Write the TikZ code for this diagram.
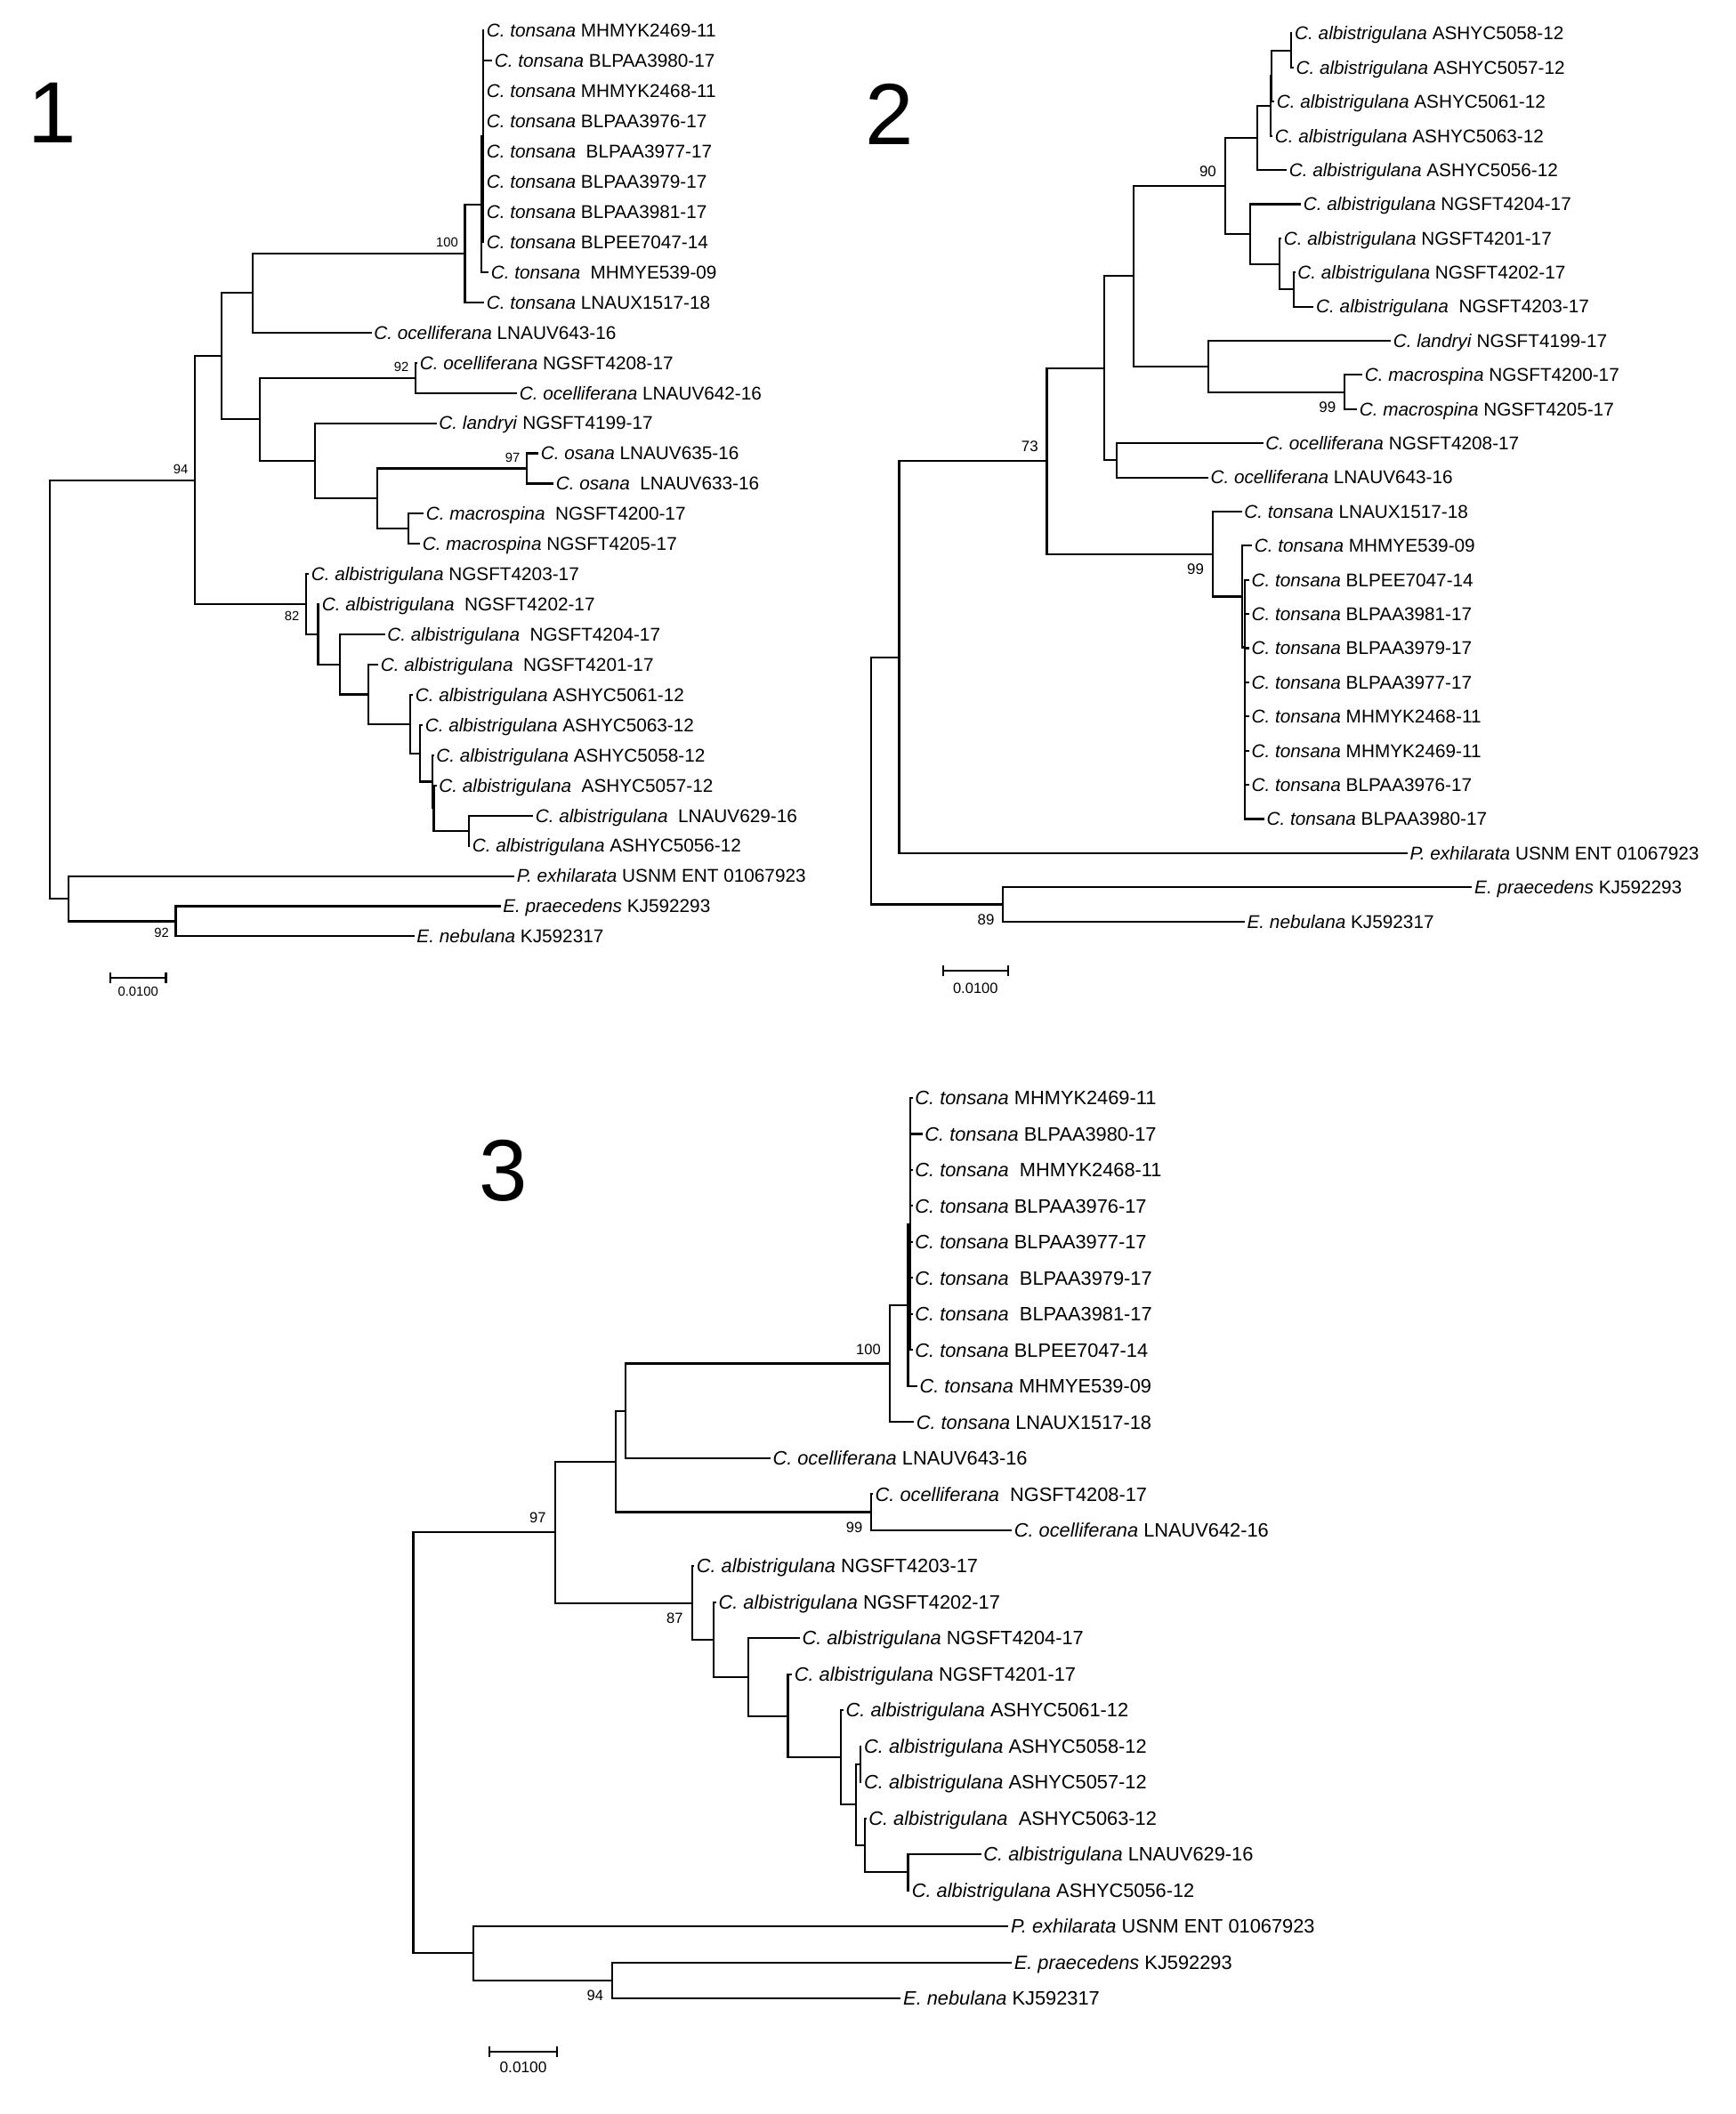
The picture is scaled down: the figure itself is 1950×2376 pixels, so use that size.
\documentclass[tikz,border=0pt]{standalone}
\usepackage{fontspec}
\setmainfont{Liberation Sans}
\usetikzlibrary{arrows.meta}

\begin{document}
\begin{tikzpicture}[
    x=0.01cm, y=-0.01cm,
    branch/.style={line width=0.58pt},
    leaf/.style={anchor=west, inner sep=0.6pt, text height=5.2pt, text depth=1pt, font=\fontsize{5.9}{7}\selectfont},
    bigleaf/.style={leaf, text height=5.45pt, text depth=1.05pt, font=\fontsize{6.2}{7.4}\selectfont},
    bignum/.style={anchor=base, inner sep=0pt, font=\fontsize{27.8}{30}\selectfont},
    bs/.style={inner sep=0pt},
    bsaboveA/.style={bs, anchor=south east, xshift=-2pt, yshift=1.8pt, font=\fontsize{4.2}{5}\selectfont},
    bsbelowA/.style={bs, anchor=north east, xshift=-2pt, yshift=-2pt, font=\fontsize{4.2}{5}\selectfont},
    bsaboveB/.style={bs, anchor=south east, xshift=-2.6pt, yshift=2.7pt, font=\fontsize{4.8}{5.6}\selectfont},
    bsbelowB/.style={bs, anchor=north east, xshift=-2.6pt, yshift=-2.9pt, font=\fontsize{4.8}{5.6}\selectfont},
    bsaboveC/.style={bs, anchor=south east, xshift=-2.7pt, yshift=2.7pt, font=\fontsize{4.7}{5.5}\selectfont},
    bsbelowC/.style={bs, anchor=north east, xshift=-2.7pt, yshift=-3pt, font=\fontsize{4.7}{5.5}\selectfont},
    scalebar/.style={branch, {Bar[width=3.6pt]}-{Bar[width=3.6pt]}},
]

    \fill[white] (0,0) rectangle (1950,2376);

    % =====================================================================
    % TREE 1
    % =====================================================================
    \node[bignum] (num1) at (59,161) {1};

    % leaves
    \node[leaf] (a1) at (544,34.5) {\textit{C. tonsana} MHMYK2469-11};
    \node[leaf] (a2) at (553,68.4) {\textit{C. tonsana} BLPAA3980-17};
    \node[leaf] (a3) at (544,102.4) {\textit{C. tonsana} MHMYK2468-11};
    \node[leaf] (a4) at (544,136.3) {\textit{C. tonsana} BLPAA3976-17};
    \node[leaf] (a5) at (544,170.2) {\textit{C. tonsana}\ \ BLPAA3977-17};
    \node[leaf] (a6) at (544,204.2) {\textit{C. tonsana} BLPAA3979-17};
    \node[leaf] (a7) at (544,238.1) {\textit{C. tonsana} BLPAA3981-17};
    \node[leaf] (a8) at (544,272.0) {\textit{C. tonsana} BLPEE7047-14};
    \node[leaf] (a9) at (549,305.9) {\textit{C. tonsana}\ \ MHMYE539-09};
    \node[leaf] (a10) at (544,339.9) {\textit{C. tonsana} LNAUX1517-18};
    \node[leaf] (a11) at (417.5,373.8) {\textit{C. ocelliferana} LNAUV643-16};
    \node[leaf] (a12) at (469,407.7) {\textit{C. ocelliferana} NGSFT4208-17};
    \node[leaf] (a13) at (581,441.7) {\textit{C. ocelliferana} LNAUV642-16};
    \node[leaf] (a14) at (490.6,475.6) {\textit{C. landryi} NGSFT4199-17};
    \node[leaf] (a15) at (605,509.5) {\textit{C. osana} LNAUV635-16};
    \node[leaf] (a16) at (622,543.5) {\textit{C. osana}\ \ LNAUV633-16};
    \node[leaf] (a17) at (476,577.4) {\textit{C. macrospina}\ \ NGSFT4200-17};
    \node[leaf] (a18) at (472,611.3) {\textit{C. macrospina} NGSFT4205-17};
    \node[leaf] (a19) at (347,645.3) {\textit{C. albistrigulana} NGSFT4203-17};
    \node[leaf] (a20) at (359,679.2) {\textit{C. albistrigulana}\ \ NGSFT4202-17};
    \node[leaf] (a21) at (432.5,713.1) {\textit{C. albistrigulana}\ \ NGSFT4204-17};
    \node[leaf] (a22) at (425,747.1) {\textit{C. albistrigulana}\ \ NGSFT4201-17};
    \node[leaf] (a23) at (464,781.0) {\textit{C. albistrigulana} ASHYC5061-12};
    \node[leaf] (a24) at (475,814.9) {\textit{C. albistrigulana} ASHYC5063-12};
    \node[leaf] (a25) at (487.5,848.8) {\textit{C. albistrigulana} ASHYC5058-12};
    \node[leaf] (a26) at (490.6,882.8) {\textit{C. albistrigulana}\ \ ASHYC5057-12};
    \node[leaf] (a27) at (599,916.7) {\textit{C. albistrigulana}\ \ LNAUV629-16};
    \node[leaf] (a28) at (528,950.6) {\textit{C. albistrigulana} ASHYC5056-12};
    \node[leaf] (a29) at (578,984.6) {\textit{P. exhilarata} USNM ENT 01067923};
    \node[leaf] (a30) at (562.5,1018.5) {\textit{E. praecedens} KJ592293};
    \node[leaf] (a31) at (465.6,1052.4) {\textit{E. nebulana} KJ592317};

    % inner nodes
    \coordinate (a_poly) at (543,153.3);
    \coordinate (a_s) at (541,229.6);
    \coordinate (a_100) at (522.5,284.7);
    \coordinate (a_c) at (284,329.3);
    \coordinate (a_92) at (467,424.7);
    \coordinate (a_97) at (592,526.5);
    \coordinate (a_i) at (459,594.4);
    \coordinate (a_g) at (424,560.4);
    \coordinate (a_f) at (354,518);
    \coordinate (a_d) at (292,471.3);
    \coordinate (a_b) at (249,400.3);
    \coordinate (a_q) at (527,933.7);
    \coordinate (a_p) at (487.5,908.2);
    \coordinate (a_o) at (486,878.5);
    \coordinate (a_n) at (472,846.7);
    \coordinate (a_m) at (460.6,813.9);
    \coordinate (a_l) at (414,780.5);
    \coordinate (a_k) at (382,746.8);
    \coordinate (a_j) at (357.5,713);
    \coordinate (a_82) at (344,679.1);
    \coordinate (a_94) at (219,539.7);
    \coordinate (a_e) at (197.5,1035.5);
    \coordinate (a_out) at (77,1010);
    \coordinate (a_root) at (56,774.9);

    % branches
    \foreach \i in {1,...,8} \draw[branch] (a_poly) |- (a\i.west);
    \draw[branch] (a_s) |- (a_poly) (a_s) |- (a9.west);
    \draw[branch] (a_100) |- (a_s) (a_100) |- (a10.west);
    \draw[branch] (a_c) |- (a_100) (a_c) |- (a11.west);
    \draw[branch] (a_92) |- (a12.west) (a_92) |- (a13.west);
    \draw[branch] (a_97) |- (a15.west) (a_97) |- (a16.west);
    \draw[branch] (a_i) |- (a17.west) (a_i) |- (a18.west);
    \draw[branch] (a_g) |- (a_97) (a_g) |- (a_i);
    \draw[branch] (a_f) |- (a14.west) (a_f) |- (a_g);
    \draw[branch] (a_d) |- (a_92) (a_d) |- (a_f);
    \draw[branch] (a_b) |- (a_c) (a_b) |- (a_d);
    \draw[branch] (a_q) |- (a27.west) (a_q) |- (a28.west);
    \draw[branch] (a_p) |- (a26.west) (a_p) |- (a_q);
    \draw[branch] (a_o) |- (a25.west) (a_o) |- (a_p);
    \draw[branch] (a_n) |- (a24.west) (a_n) |- (a_o);
    \draw[branch] (a_m) |- (a23.west) (a_m) |- (a_n);
    \draw[branch] (a_l) |- (a22.west) (a_l) |- (a_m);
    \draw[branch] (a_k) |- (a21.west) (a_k) |- (a_l);
    \draw[branch] (a_j) |- (a20.west) (a_j) |- (a_k);
    \draw[branch] (a_82) |- (a19.west) (a_82) |- (a_j);
    \draw[branch] (a_94) |- (a_b) (a_94) |- (a_82);
    \draw[branch] (a_e) |- (a30.west) (a_e) |- (a31.west);
    \draw[branch] (a_out) |- (a29.west) (a_out) |- (a_e);
    \draw[branch] (a_root) |- (a_94) (a_root) |- (a_out);

    % bootstrap values
    \node[bsaboveA] (a_bs100) at (a_100) {100};
    \node[bsaboveA] (a_bs92) at (a_92) {92};
    \node[bsaboveA] (a_bs97) at (a_97) {97};
    \node[bsaboveA] (a_bs94) at (a_94) {94};
    \node[bsbelowA] (a_bs82) at (a_82) {82};
    \node[bsbelowA] (a_bse) at (a_e) {92};

    % scale
    \coordinate (a_sc0) at (123,1099);
    \coordinate (a_sc1) at (187.5,1099);
    \draw[scalebar] (a_sc0) -- (a_sc1) node[midway, below=2.6pt, inner sep=0pt, font=\fontsize{4.2}{5}\selectfont] (a_sctxt) {0.0100};

    % =====================================================================
    % TREE 2
    % =====================================================================
    \node[bignum] (num2) at (1000,162.5) {2};

    % leaves
    \node[leaf] (b1) at (1452.4,37.5) {\textit{C. albistrigulana} ASHYC5058-12};
    \node[leaf] (b2) at (1453.7,75.9) {\textit{C. albistrigulana} ASHYC5057-12};
    \node[leaf] (b3) at (1432,114.3) {\textit{C. albistrigulana} ASHYC5061-12};
    \node[leaf] (b4) at (1430,152.7) {\textit{C. albistrigulana} ASHYC5063-12};
    \node[leaf] (b5) at (1446,191.1) {\textit{C. albistrigulana} ASHYC5056-12};
    \node[leaf] (b6) at (1462,229.5) {\textit{C. albistrigulana} NGSFT4204-17};
    \node[leaf] (b7) at (1440,267.8) {\textit{C. albistrigulana} NGSFT4201-17};
    \node[leaf] (b8) at (1455.6,306.2) {\textit{C. albistrigulana} NGSFT4202-17};
    \node[leaf] (b9) at (1476.4,344.6) {\textit{C. albistrigulana}\ \ NGSFT4203-17};
    \node[leaf] (b10) at (1563,383.0) {\textit{C. landryi} NGSFT4199-17};
    \node[leaf] (b11) at (1531,421.4) {\textit{C. macrospina} NGSFT4200-17};
    \node[leaf] (b12) at (1525,459.8) {\textit{C. macrospina} NGSFT4205-17};
    \node[leaf] (b13) at (1419.6,498.2) {\textit{C. ocelliferana} NGSFT4208-17};
    \node[leaf] (b14) at (1357.7,536.6) {\textit{C. ocelliferana} LNAUV643-16};
    \node[leaf] (b15) at (1395.6,575.0) {\textit{C. tonsana} LNAUX1517-18};
    \node[leaf] (b16) at (1407,613.4) {\textit{C. tonsana} MHMYE539-09};
    \node[leaf] (b17) at (1403.8,651.7) {\textit{C. tonsana} BLPEE7047-14};
    \node[leaf] (b18) at (1403.8,690.1) {\textit{C. tonsana} BLPAA3981-17};
    \node[leaf] (b19) at (1403.8,728.5) {\textit{C. tonsana} BLPAA3979-17};
    \node[leaf] (b20) at (1403.8,766.9) {\textit{C. tonsana} BLPAA3977-17};
    \node[leaf] (b21) at (1403.8,805.3) {\textit{C. tonsana} MHMYK2468-11};
    \node[leaf] (b22) at (1403.8,843.7) {\textit{C. tonsana} MHMYK2469-11};
    \node[leaf] (b23) at (1403.8,882.1) {\textit{C. tonsana} BLPAA3976-17};
    \node[leaf] (b24) at (1420.8,920.5) {\textit{C. tonsana} BLPAA3980-17};
    \node[leaf] (b25) at (1581.8,958.9) {\textit{P. exhilarata} USNM ENT 01067923};
    \node[leaf] (b26) at (1654.4,997.3) {\textit{E. praecedens} KJ592293};
    \node[leaf] (b27) at (1398.8,1035.7) {\textit{E. nebulana} KJ592317};

    % inner nodes
    \coordinate (b_pair) at (1451,56.7);
    \coordinate (b_y1) at (1429,85.5);
    \coordinate (b_y2) at (1428,119.1);
    \coordinate (b_z) at (1412.7,155.1);
    \coordinate (b_v) at (1453.7,325.4);
    \coordinate (b_w) at (1438,296.6);
    \coordinate (b_u) at (1405,263);
    \coordinate (b_90) at (1376.7,209);
    \coordinate (b_99m) at (1511,440.6);
    \coordinate (b_la) at (1357.7,411.8);
    \coordinate (b_x) at (1274.4,310.4);
    \coordinate (b_oc) at (1254.8,517.4);
    \coordinate (b_y3) at (1241,413.9);
    \coordinate (b_r2) at (1398.8,727.5);
    \coordinate (b_r1) at (1395.6,670.5);
    \coordinate (b_99t) at (1362.8,622.7);
    \coordinate (b_73) at (1176.5,518.3);
    \coordinate (b_ing) at (1010.5,738.6);
    \coordinate (b_89) at (1127.3,1016.5);
    \coordinate (b_root) at (979,877.5);

    % branches
    \draw[branch] (b_pair) |- (b1.west) (b_pair) |- (b2.west);
    \draw[branch] (b_y1) |- (b_pair) (b_y1) |- (b3.west);
    \draw[branch] (b_y2) |- (b_y1) (b_y2) |- (b4.west);
    \draw[branch] (b_z) |- (b_y2) (b_z) |- (b5.west);
    \draw[branch] (b_v) |- (b8.west) (b_v) |- (b9.west);
    \draw[branch] (b_w) |- (b7.west) (b_w) |- (b_v);
    \draw[branch] (b_u) |- (b6.west) (b_u) |- (b_w);
    \draw[branch] (b_90) |- (b_z) (b_90) |- (b_u);
    \draw[branch] (b_99m) |- (b11.west) (b_99m) |- (b12.west);
    \draw[branch] (b_la) |- (b10.west) (b_la) |- (b_99m);
    \draw[branch] (b_x) |- (b_90) (b_x) |- (b_la);
    \draw[branch] (b_oc) |- (b13.west) (b_oc) |- (b14.west);
    \draw[branch] (b_y3) |- (b_x) (b_y3) |- (b_oc);
    \foreach \i in {17,...,24} \draw[branch] (b_r2) |- (b\i.west);
    \draw[branch] (b_r1) |- (b16.west) (b_r1) |- (b_r2);
    \draw[branch] (b_99t) |- (b15.west) (b_99t) |- (b_r1);
    \draw[branch] (b_73) |- (b_y3) (b_73) |- (b_99t);
    \draw[branch] (b_ing) |- (b_73) (b_ing) |- (b25.west);
    \draw[branch] (b_89) |- (b26.west) (b_89) |- (b27.west);
    \draw[branch] (b_root) |- (b_ing) (b_root) |- (b_89);

    % bootstrap values
    \node[bsaboveB] (b_bs90) at (b_90) {90};
    \node[bsaboveB] (b_bs73) at (b_73) {73};
    \node[bsbelowB] (b_bs99m) at (b_99m) {99};
    \node[bsbelowB] (b_bs99t) at (b_99t) {99};
    \node[bsbelowB] (b_bs89) at (b_89) {89};

    % scale
    \coordinate (b_sc0) at (1059,1091);
    \coordinate (b_sc1) at (1133.6,1091);
    \draw[scalebar] (b_sc0) -- (b_sc1) node[midway, below=3.7pt, inner sep=0pt, font=\fontsize{4.7}{5.5}\selectfont] (b_sctxt) {0.0100};

    % =====================================================================
    % TREE 3
    % =====================================================================
    \node[bignum] (num3) at (566,1349) {3};

    % leaves
    \node[bigleaf] (c1) at (1025.6,1234.0) {\textit{C. tonsana} MHMYK2469-11};
    \node[bigleaf] (c2) at (1036.6,1274.5) {\textit{C. tonsana} BLPAA3980-17};
    \node[bigleaf] (c3) at (1025.6,1315.0) {\textit{C. tonsana}\ \ MHMYK2468-11};
    \node[bigleaf] (c4) at (1025.6,1355.4) {\textit{C. tonsana} BLPAA3976-17};
    \node[bigleaf] (c5) at (1025.6,1395.9) {\textit{C. tonsana} BLPAA3977-17};
    \node[bigleaf] (c6) at (1025.6,1436.4) {\textit{C. tonsana}\ \ BLPAA3979-17};
    \node[bigleaf] (c7) at (1025.6,1476.9) {\textit{C. tonsana}\ \ BLPAA3981-17};
    \node[bigleaf] (c8) at (1025.6,1517.4) {\textit{C. tonsana} BLPEE7047-14};
    \node[bigleaf] (c9) at (1030.7,1557.8) {\textit{C. tonsana} MHMYE539-09};
    \node[bigleaf] (c10) at (1027,1598.3) {\textit{C. tonsana} LNAUX1517-18};
    \node[bigleaf] (c11) at (865.7,1638.8) {\textit{C. ocelliferana} LNAUV643-16};
    \node[bigleaf] (c12) at (980.9,1679.3) {\textit{C. ocelliferana}\ \ NGSFT4208-17};
    \node[bigleaf] (c13) at (1137,1719.8) {\textit{C. ocelliferana} LNAUV642-16};
    \node[bigleaf] (c14) at (780,1760.2) {\textit{C. albistrigulana} NGSFT4203-17};
    \node[bigleaf] (c15) at (804.8,1800.7) {\textit{C. albistrigulana} NGSFT4202-17};
    \node[bigleaf] (c16) at (898.7,1841.2) {\textit{C. albistrigulana} NGSFT4204-17};
    \node[bigleaf] (c17) at (890,1881.7) {\textit{C. albistrigulana} NGSFT4201-17};
    \node[bigleaf] (c18) at (947.9,1922.2) {\textit{C. albistrigulana} ASHYC5061-12};
    \node[bigleaf] (c19) at (968.4,1962.6) {\textit{C. albistrigulana} ASHYC5058-12};
    \node[bigleaf] (c20) at (968.4,2003.1) {\textit{C. albistrigulana} ASHYC5057-12};
    \node[bigleaf] (c21) at (973.5,2043.6) {\textit{C. albistrigulana}\ \ ASHYC5063-12};
    \node[bigleaf] (c22) at (1102.6,2084.1) {\textit{C. albistrigulana} LNAUV629-16};
    \node[bigleaf] (c23) at (1022,2124.6) {\textit{C. albistrigulana} ASHYC5056-12};
    \node[bigleaf] (c24) at (1133.4,2165.0) {\textit{P. exhilarata} USNM ENT 01067923};
    \node[bigleaf] (c25) at (1137,2205.5) {\textit{E. praecedens} KJ592293};
    \node[bigleaf] (c26) at (1012.4,2246.0) {\textit{E. nebulana} KJ592317};

    % inner nodes
    \coordinate (c_poly) at (1023.4,1375.7);
    \coordinate (c_s) at (1020.5,1466.8);
    \coordinate (c_100) at (1000,1532.5);
    \coordinate (c_c) at (702.9,1585.6);
    \coordinate (c_99) at (979.4,1699.5);
    \coordinate (c_b) at (691.9,1642.6);
    \coordinate (c_q) at (1020.5,2104.4);
    \coordinate (c_o) at (972,2074);
    \coordinate (c_pair) at (967,1982.9);
    \coordinate (c_n) at (961.8,2028.4);
    \coordinate (c_m) at (945,1975.3);
    \coordinate (c_l) at (885.5,1928.5);
    \coordinate (c_k) at (840.8,1884.9);
    \coordinate (c_j) at (801.9,1842.8);
    \coordinate (c_87) at (777.7,1801.5);
    \coordinate (c_97) at (623.7,1722);
    \coordinate (c_94) at (688.2,2225.8);
    \coordinate (c_out) at (532,2195.4);
    \coordinate (c_root) at (464.5,1958.7);

    % branches
    \foreach \i in {1,...,8} \draw[branch] (c_poly) |- (c\i.west);
    \draw[branch] (c_s) |- (c_poly) (c_s) |- (c9.west);
    \draw[branch] (c_100) |- (c_s) (c_100) |- (c10.west);
    \draw[branch] (c_c) |- (c_100) (c_c) |- (c11.west);
    \draw[branch] (c_99) |- (c12.west) (c_99) |- (c13.west);
    \draw[branch] (c_b) |- (c_c) (c_b) |- (c_99);
    \draw[branch] (c_q) |- (c22.west) (c_q) |- (c23.west);
    \draw[branch] (c_o) |- (c21.west) (c_o) |- (c_q);
    \draw[branch] (c_pair) |- (c19.west) (c_pair) |- (c20.west);
    \draw[branch] (c_n) |- (c_pair) (c_n) |- (c_o);
    \draw[branch] (c_m) |- (c18.west) (c_m) |- (c_n);
    \draw[branch] (c_l) |- (c17.west) (c_l) |- (c_m);
    \draw[branch] (c_k) |- (c16.west) (c_k) |- (c_l);
    \draw[branch] (c_j) |- (c15.west) (c_j) |- (c_k);
    \draw[branch] (c_87) |- (c14.west) (c_87) |- (c_j);
    \draw[branch] (c_97) |- (c_b) (c_97) |- (c_87);
    \draw[branch] (c_94) |- (c25.west) (c_94) |- (c26.west);
    \draw[branch] (c_out) |- (c24.west) (c_out) |- (c_94);
    \draw[branch] (c_root) |- (c_97) (c_root) |- (c_out);

    % bootstrap values
    \node[bsaboveC] (c_bs100) at (c_100) {100};
    \node[bsaboveC] (c_bs97) at (c_97) {97};
    \node[bsbelowC] (c_bs99) at (c_99) {99};
    \node[bsbelowC] (c_bs87) at (c_87) {87};
    \node[bsbelowC] (c_bs94) at (c_94) {94};

    % scale
    \coordinate (c_sc0) at (549,2306);
    \coordinate (c_sc1) at (627,2306);
    \draw[scalebar] (c_sc0) -- (c_sc1) node[midway, below=3.1pt, inner sep=0pt, font=\fontsize{4.9}{5.8}\selectfont] (c_sctxt) {0.0100};

\end{tikzpicture}
\end{document}
